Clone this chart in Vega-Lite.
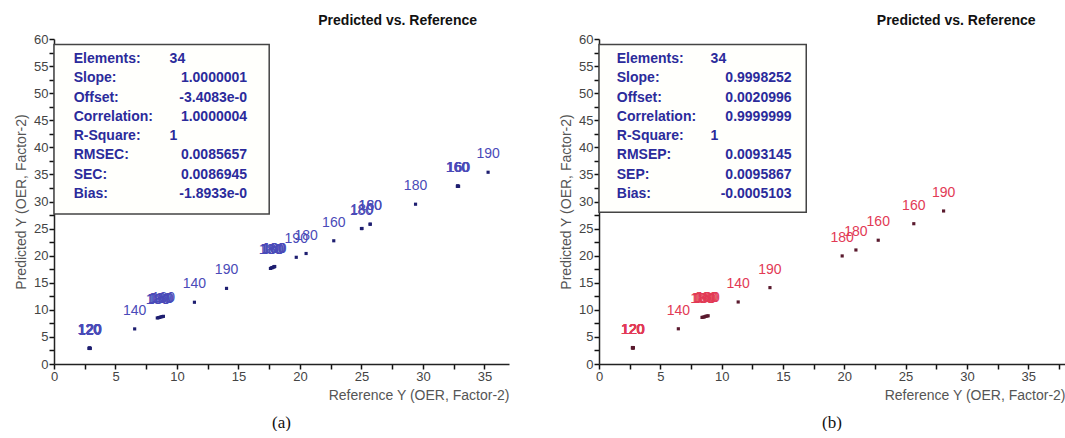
{
  "$schema": "https://vega.github.io/schema/vega-lite/v6.json",
  "padding": {"left": 14, "top": 14, "right": 0, "bottom": 0},
  "background": "white",
  "spacing": 50,
  "config": {
    "font": "Liberation Sans",
    "view": {"stroke": null},
    "axis": {
      "grid": false,
      "ticks": true,
      "domainColor": "#222",
      "domainWidth": 1.5,
      "tickColor": "#111",
      "tickWidth": 1.5,
      "tickSize": 5,
      "tickOpacity": 1,
      "zindex": 1,
      "labelFontSize": 13,
      "labelColor": "#444",
      "labelPadding": 1,
      "labelFlush": false,
      "labelOverlap": false,
      "titleFontSize": 14,
      "titleFontWeight": "normal",
      "titleColor": "#555",
      "labelExpr": "datum.value % 5 === 0 ? datum.label : ''"
    }
  },
  "datasets": {
    "ptsA": [
      {"ref": 2.85, "pred": 2.88, "label": "120"},
      {"ref": 2.9, "pred": 2.92, "label": "120"},
      {"ref": 2.95, "pred": 2.9, "label": "120"},
      {"ref": 2.88, "pred": 2.95, "label": "120"},
      {"ref": 2.92, "pred": 2.86, "label": "120"},
      {"ref": 2.87, "pred": 2.9, "label": "120"},
      {"ref": 6.56, "pred": 6.48, "label": "140"},
      {"ref": 8.4, "pred": 8.5, "label": "180"},
      {"ref": 8.5, "pred": 8.55, "label": "180"},
      {"ref": 8.6, "pred": 8.6, "label": "180"},
      {"ref": 8.7, "pred": 8.7, "label": "160"},
      {"ref": 8.8, "pred": 8.75, "label": "180"},
      {"ref": 8.9, "pred": 8.8, "label": "180"},
      {"ref": 11.42, "pred": 11.4, "label": "140"},
      {"ref": 14.03, "pred": 13.96, "label": "190"},
      {"ref": 17.6, "pred": 17.65, "label": "180"},
      {"ref": 17.7, "pred": 17.75, "label": "180"},
      {"ref": 17.75, "pred": 17.8, "label": "180"},
      {"ref": 17.85, "pred": 17.9, "label": "160"},
      {"ref": 17.9, "pred": 17.95, "label": "180"},
      {"ref": 17.95, "pred": 18.0, "label": "180"},
      {"ref": 19.7, "pred": 19.7, "label": "190"},
      {"ref": 20.5, "pred": 20.4, "label": "180"},
      {"ref": 22.75, "pred": 22.75, "label": "160"},
      {"ref": 25.0, "pred": 25.0, "label": "180"},
      {"ref": 25.05, "pred": 25.02, "label": "180"},
      {"ref": 25.7, "pred": 25.8, "label": "160"},
      {"ref": 25.72, "pred": 25.82, "label": "180"},
      {"ref": 29.4, "pred": 29.5, "label": "180"},
      {"ref": 32.8, "pred": 32.8, "label": "160"},
      {"ref": 32.85, "pred": 32.85, "label": "160"},
      {"ref": 32.9, "pred": 32.8, "label": "160"},
      {"ref": 32.82, "pred": 32.88, "label": "160"},
      {"ref": 35.3, "pred": 35.4, "label": "190"}
    ],
    "ptsB": [
      {"ref": 2.72, "pred": 2.98, "label": "120"},
      {"ref": 2.75, "pred": 3.0, "label": "120"},
      {"ref": 2.78, "pred": 3.02, "label": "120"},
      {"ref": 2.8, "pred": 2.97, "label": "120"},
      {"ref": 2.74, "pred": 3.04, "label": "120"},
      {"ref": 2.77, "pred": 2.99, "label": "120"},
      {"ref": 6.47, "pred": 6.5, "label": "140"},
      {"ref": 8.4, "pred": 8.6, "label": "180"},
      {"ref": 8.5, "pred": 8.65, "label": "180"},
      {"ref": 8.6, "pred": 8.7, "label": "180"},
      {"ref": 8.7, "pred": 8.8, "label": "160"},
      {"ref": 8.8, "pred": 8.85, "label": "180"},
      {"ref": 8.9, "pred": 8.9, "label": "180"},
      {"ref": 11.35, "pred": 11.45, "label": "140"},
      {"ref": 13.94, "pred": 14.1, "label": "190"},
      {"ref": 19.83, "pred": 19.95, "label": "180"},
      {"ref": 20.95, "pred": 21.05, "label": "180"},
      {"ref": 22.77, "pred": 22.85, "label": "160"},
      {"ref": 25.67, "pred": 25.9, "label": "160"},
      {"ref": 28.1, "pred": 28.25, "label": "190"}
    ],
    "statsA": [
      {"stat": "Elements:", "value": "34"},
      {"stat": "Slope:", "value": "1.0000001"},
      {"stat": "Offset:", "value": "-3.4083e-0"},
      {"stat": "Correlation:", "value": "1.0000004"},
      {"stat": "R-Square:", "value": "1"},
      {"stat": "RMSEC:", "value": "0.0085657"},
      {"stat": "SEC:", "value": "0.0086945"},
      {"stat": "Bias:", "value": "-1.8933e-0"}
    ],
    "statsB": [
      {"stat": "Elements:", "value": "34"},
      {"stat": "Slope:", "value": "0.9998252"},
      {"stat": "Offset:", "value": "0.0020996"},
      {"stat": "Correlation:", "value": "0.9999999"},
      {"stat": "R-Square:", "value": "1"},
      {"stat": "RMSEP:", "value": "0.0093145"},
      {"stat": "SEP:", "value": "0.0095867"},
      {"stat": "Bias:", "value": "-0.0005103"}
    ],
    "one": [{"name": "box"}]
  },
  "hconcat": [
    {
      "width": 455,
      "height": 325,
      "title": {"text": "(a)", "orient": "bottom", "anchor": "middle", "font": "Liberation Serif", "fontSize": 17, "fontWeight": "normal", "color": "#111", "offset": 13},
      "resolve": {"scale": {"y": "independent"}},
      "layer": [
        {
          "layer": [
            {
              "data": {"name": "ptsA"},
              "mark": {"type": "point", "shape": "square", "filled": true, "size": 10, "color": "#1e1e70", "opacity": 1},
              "encoding": {
                "x": {"field": "ref", "type": "quantitative", "scale": {"domain": [0, 37], "nice": false},
                  "axis": {"title": "Reference Y (OER, Factor-2)", "titleAnchor": "end", "titlePadding": 5, "values": [0, 2.5, 5, 7.5, 10, 12.5, 15, 17.5, 20, 22.5, 25, 27.5, 30, 32.5, 35]}},
                "y": {"field": "pred", "type": "quantitative", "scale": {"domain": [0, 60], "nice": false},
                  "axis": {"title": "Predicted Y (OER, Factor-2)", "titlePadding": 5, "values": [0, 2.5, 5, 7.5, 10, 12.5, 15, 17.5, 20, 22.5, 25, 27.5, 30, 32.5, 35, 37.5, 40, 42.5, 45, 47.5, 50, 52.5, 55, 57.5, 60]}}
              }
            },
            {
              "data": {"name": "ptsA"},
              "mark": {"type": "text", "dy": -18, "fontSize": 14, "color": "#4a4ab8", "baseline": "middle"},
              "encoding": {
                "x": {"field": "ref", "type": "quantitative",
                  "axis": {"title": "Reference Y (OER, Factor-2)", "titleAnchor": "end", "titlePadding": 5, "values": [0, 2.5, 5, 7.5, 10, 12.5, 15, 17.5, 20, 22.5, 25, 27.5, 30, 32.5, 35]}},
                "y": {"field": "pred", "type": "quantitative",
                  "axis": {"title": "Predicted Y (OER, Factor-2)", "titlePadding": 5, "values": [0, 2.5, 5, 7.5, 10, 12.5, 15, 17.5, 20, 22.5, 25, 27.5, 30, 32.5, 35, 37.5, 40, 42.5, 45, 47.5, 50, 52.5, 55, 57.5, 60]}},
                "text": {"field": "label"}
              }
            },
            {
              "data": {"name": "one"},
              "mark": {"type": "rect", "fill": "#fffffc", "stroke": "#444", "strokeWidth": 1.5},
              "encoding": {
                "x": {"datum": 0, "type": "quantitative",
                  "axis": {"title": "Reference Y (OER, Factor-2)", "titleAnchor": "end", "titlePadding": 5, "values": [0, 2.5, 5, 7.5, 10, 12.5, 15, 17.5, 20, 22.5, 25, 27.5, 30, 32.5, 35]}},
                "x2": {"datum": 17.5},
                "y": {"datum": 59, "type": "quantitative",
                  "axis": {"title": "Predicted Y (OER, Factor-2)", "titlePadding": 5, "values": [0, 2.5, 5, 7.5, 10, 12.5, 15, 17.5, 20, 22.5, 25, 27.5, 30, 32.5, 35, 37.5, 40, 42.5, 45, 47.5, 50, 52.5, 55, 57.5, 60]}},
                "y2": {"datum": 27.7}
              }
            },
            {
              "data": {"name": "one"},
              "mark": {"type": "text", "text": "Predicted vs. Reference", "fontWeight": "bold", "fontSize": 14, "align": "right", "baseline": "middle", "dy": -18, "color": "#111"},
              "encoding": {
                "x": {"datum": 34.4, "type": "quantitative",
                  "axis": {"title": "Reference Y (OER, Factor-2)", "titleAnchor": "end", "titlePadding": 5, "values": [0, 2.5, 5, 7.5, 10, 12.5, 15, 17.5, 20, 22.5, 25, 27.5, 30, 32.5, 35]}},
                "y": {"datum": 60, "type": "quantitative",
                  "axis": {"title": "Predicted Y (OER, Factor-2)", "titlePadding": 5, "values": [0, 2.5, 5, 7.5, 10, 12.5, 15, 17.5, 20, 22.5, 25, 27.5, 30, 32.5, 35, 37.5, 40, 42.5, 45, 47.5, 50, 52.5, 55, 57.5, 60]}}
              }
            }
          ]
        },
        {
          "data": {"name": "statsA"},
          "layer": [
            {
              "mark": {"type": "text", "align": "left", "baseline": "middle", "fontSize": 14, "fontWeight": "bold", "color": "#2b2b9b"},
              "encoding": {"x": {"datum": 1.6, "type": "quantitative",
                "axis": {"title": "Reference Y (OER, Factor-2)", "titleAnchor": "end", "titlePadding": 5, "values": [0, 2.5, 5, 7.5, 10, 12.5, 15, 17.5, 20, 22.5, 25, 27.5, 30, 32.5, 35]}},
                "text": {"field": "stat"}}
            },
            {
              "mark": {"type": "text", "align": "left", "baseline": "middle", "fontSize": 14, "fontWeight": "bold", "color": "#2b2b9b"},
              "encoding": {"x": {"datum": 9.4, "type": "quantitative",
                "axis": {"title": "Reference Y (OER, Factor-2)", "titleAnchor": "end", "titlePadding": 5, "values": [0, 2.5, 5, 7.5, 10, 12.5, 15, 17.5, 20, 22.5, 25, 27.5, 30, 32.5, 35]}},
                "text": {"condition": {"test": "datum.value == '34' || datum.value == '1'", "field": "value"}, "value": ""}}
            },
            {
              "mark": {"type": "text", "align": "right", "baseline": "middle", "fontSize": 14, "fontWeight": "bold", "color": "#2b2b9b"},
              "encoding": {"x": {"datum": 15.7, "type": "quantitative",
                "axis": {"title": "Reference Y (OER, Factor-2)", "titleAnchor": "end", "titlePadding": 5, "values": [0, 2.5, 5, 7.5, 10, 12.5, 15, 17.5, 20, 22.5, 25, 27.5, 30, 32.5, 35]}},
                "text": {"condition": {"test": "datum.value != '34' && datum.value != '1'", "field": "value"}, "value": ""}}
            }
          ],
          "encoding": {
            "y": {"field": "stat", "type": "ordinal", "sort": null, "scale": {"type": "point", "range": [20, 155], "padding": 0}, "axis": null}
          }
        }
      ]
    },
    {
      "width": 466,
      "height": 325,
      "title": {"text": "(b)", "orient": "bottom", "anchor": "middle", "font": "Liberation Serif", "fontSize": 17, "fontWeight": "normal", "color": "#111", "offset": 13},
      "resolve": {"scale": {"y": "independent"}},
      "layer": [
        {
          "layer": [
            {
              "data": {"name": "ptsB"},
              "mark": {"type": "point", "shape": "square", "filled": true, "size": 10, "color": "#5a1a2e", "opacity": 1},
              "encoding": {
                "x": {"field": "ref", "type": "quantitative", "scale": {"domain": [0, 38], "nice": false},
                  "axis": {"title": "Reference Y (OER, Factor-2)", "titleAnchor": "end", "titlePadding": 5, "values": [0, 2.5, 5, 7.5, 10, 12.5, 15, 17.5, 20, 22.5, 25, 27.5, 30, 32.5, 35, 37.5]}},
                "y": {"field": "pred", "type": "quantitative", "scale": {"domain": [0, 60], "nice": false},
                  "axis": {"title": "Predicted Y (OER, Factor-2)", "titlePadding": 5, "values": [0, 2.5, 5, 7.5, 10, 12.5, 15, 17.5, 20, 22.5, 25, 27.5, 30, 32.5, 35, 37.5, 40, 42.5, 45, 47.5, 50, 52.5, 55, 57.5, 60]}}
              }
            },
            {
              "data": {"name": "ptsB"},
              "mark": {"type": "text", "dy": -18, "fontSize": 14, "color": "#e23a55", "baseline": "middle"},
              "encoding": {
                "x": {"field": "ref", "type": "quantitative",
                  "axis": {"title": "Reference Y (OER, Factor-2)", "titleAnchor": "end", "titlePadding": 5, "values": [0, 2.5, 5, 7.5, 10, 12.5, 15, 17.5, 20, 22.5, 25, 27.5, 30, 32.5, 35, 37.5]}},
                "y": {"field": "pred", "type": "quantitative",
                  "axis": {"title": "Predicted Y (OER, Factor-2)", "titlePadding": 5, "values": [0, 2.5, 5, 7.5, 10, 12.5, 15, 17.5, 20, 22.5, 25, 27.5, 30, 32.5, 35, 37.5, 40, 42.5, 45, 47.5, 50, 52.5, 55, 57.5, 60]}},
                "text": {"field": "label"}
              }
            },
            {
              "data": {"name": "one"},
              "mark": {"type": "rect", "fill": "#fffffc", "stroke": "#444", "strokeWidth": 1.5},
              "encoding": {
                "x": {"datum": 0, "type": "quantitative",
                  "axis": {"title": "Reference Y (OER, Factor-2)", "titleAnchor": "end", "titlePadding": 5, "values": [0, 2.5, 5, 7.5, 10, 12.5, 15, 17.5, 20, 22.5, 25, 27.5, 30, 32.5, 35, 37.5]}},
                "x2": {"datum": 16.9},
                "y": {"datum": 59, "type": "quantitative",
                  "axis": {"title": "Predicted Y (OER, Factor-2)", "titlePadding": 5, "values": [0, 2.5, 5, 7.5, 10, 12.5, 15, 17.5, 20, 22.5, 25, 27.5, 30, 32.5, 35, 37.5, 40, 42.5, 45, 47.5, 50, 52.5, 55, 57.5, 60]}},
                "y2": {"datum": 28}
              }
            },
            {
              "data": {"name": "one"},
              "mark": {"type": "text", "text": "Predicted vs. Reference", "fontWeight": "bold", "fontSize": 14, "align": "right", "baseline": "middle", "dy": -18, "color": "#111"},
              "encoding": {
                "x": {"datum": 35.6, "type": "quantitative",
                  "axis": {"title": "Reference Y (OER, Factor-2)", "titleAnchor": "end", "titlePadding": 5, "values": [0, 2.5, 5, 7.5, 10, 12.5, 15, 17.5, 20, 22.5, 25, 27.5, 30, 32.5, 35, 37.5]}},
                "y": {"datum": 60, "type": "quantitative",
                  "axis": {"title": "Predicted Y (OER, Factor-2)", "titlePadding": 5, "values": [0, 2.5, 5, 7.5, 10, 12.5, 15, 17.5, 20, 22.5, 25, 27.5, 30, 32.5, 35, 37.5, 40, 42.5, 45, 47.5, 50, 52.5, 55, 57.5, 60]}}
              }
            }
          ]
        },
        {
          "data": {"name": "statsB"},
          "layer": [
            {
              "mark": {"type": "text", "align": "left", "baseline": "middle", "fontSize": 14, "fontWeight": "bold", "color": "#2b2b9b"},
              "encoding": {"x": {"datum": 1.45, "type": "quantitative",
                "axis": {"title": "Reference Y (OER, Factor-2)", "titleAnchor": "end", "titlePadding": 5, "values": [0, 2.5, 5, 7.5, 10, 12.5, 15, 17.5, 20, 22.5, 25, 27.5, 30, 32.5, 35, 37.5]}},
                "text": {"field": "stat"}}
            },
            {
              "mark": {"type": "text", "align": "left", "baseline": "middle", "fontSize": 14, "fontWeight": "bold", "color": "#2b2b9b"},
              "encoding": {"x": {"datum": 9.1, "type": "quantitative",
                "axis": {"title": "Reference Y (OER, Factor-2)", "titleAnchor": "end", "titlePadding": 5, "values": [0, 2.5, 5, 7.5, 10, 12.5, 15, 17.5, 20, 22.5, 25, 27.5, 30, 32.5, 35, 37.5]}},
                "text": {"condition": {"test": "datum.value == '34' || datum.value == '1'", "field": "value"}, "value": ""}}
            },
            {
              "mark": {"type": "text", "align": "right", "baseline": "middle", "fontSize": 14, "fontWeight": "bold", "color": "#2b2b9b"},
              "encoding": {"x": {"datum": 15.7, "type": "quantitative",
                "axis": {"title": "Reference Y (OER, Factor-2)", "titleAnchor": "end", "titlePadding": 5, "values": [0, 2.5, 5, 7.5, 10, 12.5, 15, 17.5, 20, 22.5, 25, 27.5, 30, 32.5, 35, 37.5]}},
                "text": {"condition": {"test": "datum.value != '34' && datum.value != '1'", "field": "value"}, "value": ""}}
            }
          ],
          "encoding": {
            "y": {"field": "stat", "type": "ordinal", "sort": null, "scale": {"type": "point", "range": [20, 155], "padding": 0}, "axis": null}
          }
        }
      ]
    }
  ]
}
